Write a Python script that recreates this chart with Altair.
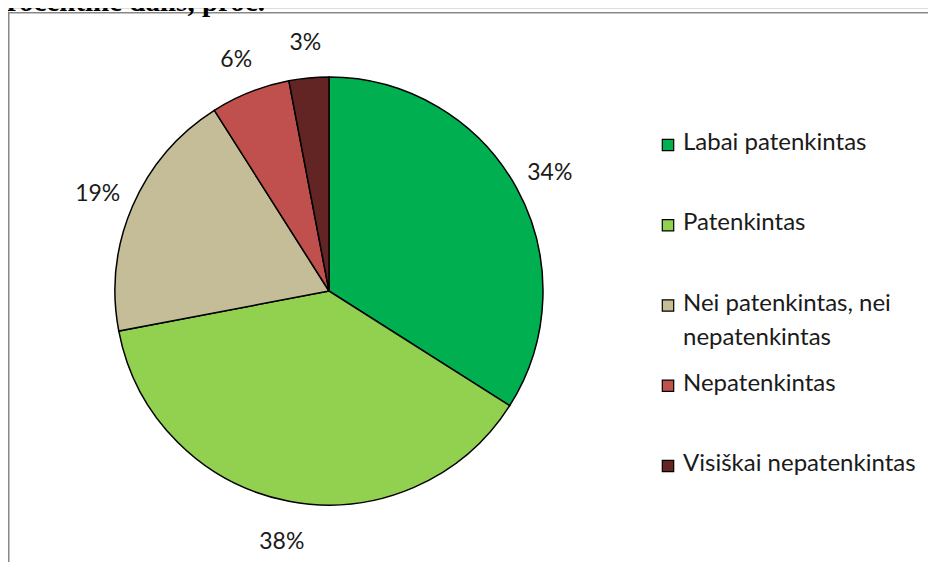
import altair as alt
import pandas as pd

categories = ["Labai patenkintas", "Patenkintas", "Nei patenkintas, nei\nnepatenkintas",
              "Nepatenkintas", "Visiškai nepatenkintas"]
values = [34, 38, 19, 6, 3]
labels = ["34%", "38%", "19%", "6%", "3%"]
order = [1, 2, 3, 4, 5]
colors = ["#00B050", "#92D050", "#C4BD97", "#C0504D", "#632523"]
title_text = "procentinė dalis, proc."

df = pd.DataFrame({"cat": categories, "value": values, "label": labels, "ord": order})

FONT = "Lato"
CX, CY, R = 321, 283, 214

color_scale = alt.Scale(domain=categories, range=colors)

pie = alt.Chart(df).mark_arc(outerRadius=R, stroke="black", strokeWidth=1.5).encode(
    theta=alt.Theta("value:Q", stack=True),
    color=alt.Color("cat:N", scale=color_scale, legend=None),
    order=alt.Order("ord:Q"),
    x=alt.value(CX), y=alt.value(CY),
)

pct = alt.Chart(df).mark_text(radius=252, font=FONT, fontSize=23, color="#1a1a1a").encode(
    theta=alt.Theta("value:Q", stack=True),
    order=alt.Order("ord:Q"),
    text=alt.Text("label:N"),
    x=alt.value(CX), y=alt.value(CY + 3),
)

ypos = alt.Y("cat:N", sort=categories, axis=None,
             scale=alt.Scale(type="point", domain=categories, range=[137, 458], padding=0))

leg_sq = alt.Chart(df).mark_point(shape="square", filled=True, size=130, stroke="black",
                                  strokeWidth=1.2, opacity=1).encode(
    x=alt.value(660), y=ypos,
    fill=alt.Color("cat:N", scale=color_scale, legend=None),
)

leg_txt = alt.Chart(df).mark_text(align="left", baseline="top", dy=-14, font=FONT, fontSize=24,
                                  lineBreak="\n", lineHeight=34, color="#1a1a1a").encode(
    x=alt.value(675), y=ypos, text="cat:N",
)

frame = alt.Chart(pd.DataFrame({"a": [0]})).mark_rect(fill=None, stroke="#888888", strokeWidth=1.5).encode(
    x=alt.value(0.75), x2=alt.value(940), y=alt.value(4.75), y2=alt.value(600),
)

title = alt.Chart(pd.DataFrame({"t": [title_text]})).mark_text(
    align="right", baseline="alphabetic", font="Liberation Serif", fontWeight="bold",
    fontSize=29, color="black").encode(
    x=alt.value(257), y=alt.value(3), text="t:N",
)

chart = alt.layer(frame, title, pie, pct, leg_sq, leg_txt).properties(
    width=920, height=554, padding=0, autosize=alt.AutoSizeParams(type="none")
).configure_view(stroke=None).configure(background="white")

chart.save("out.html", embed_options={"renderer": "svg", "actions": False})
